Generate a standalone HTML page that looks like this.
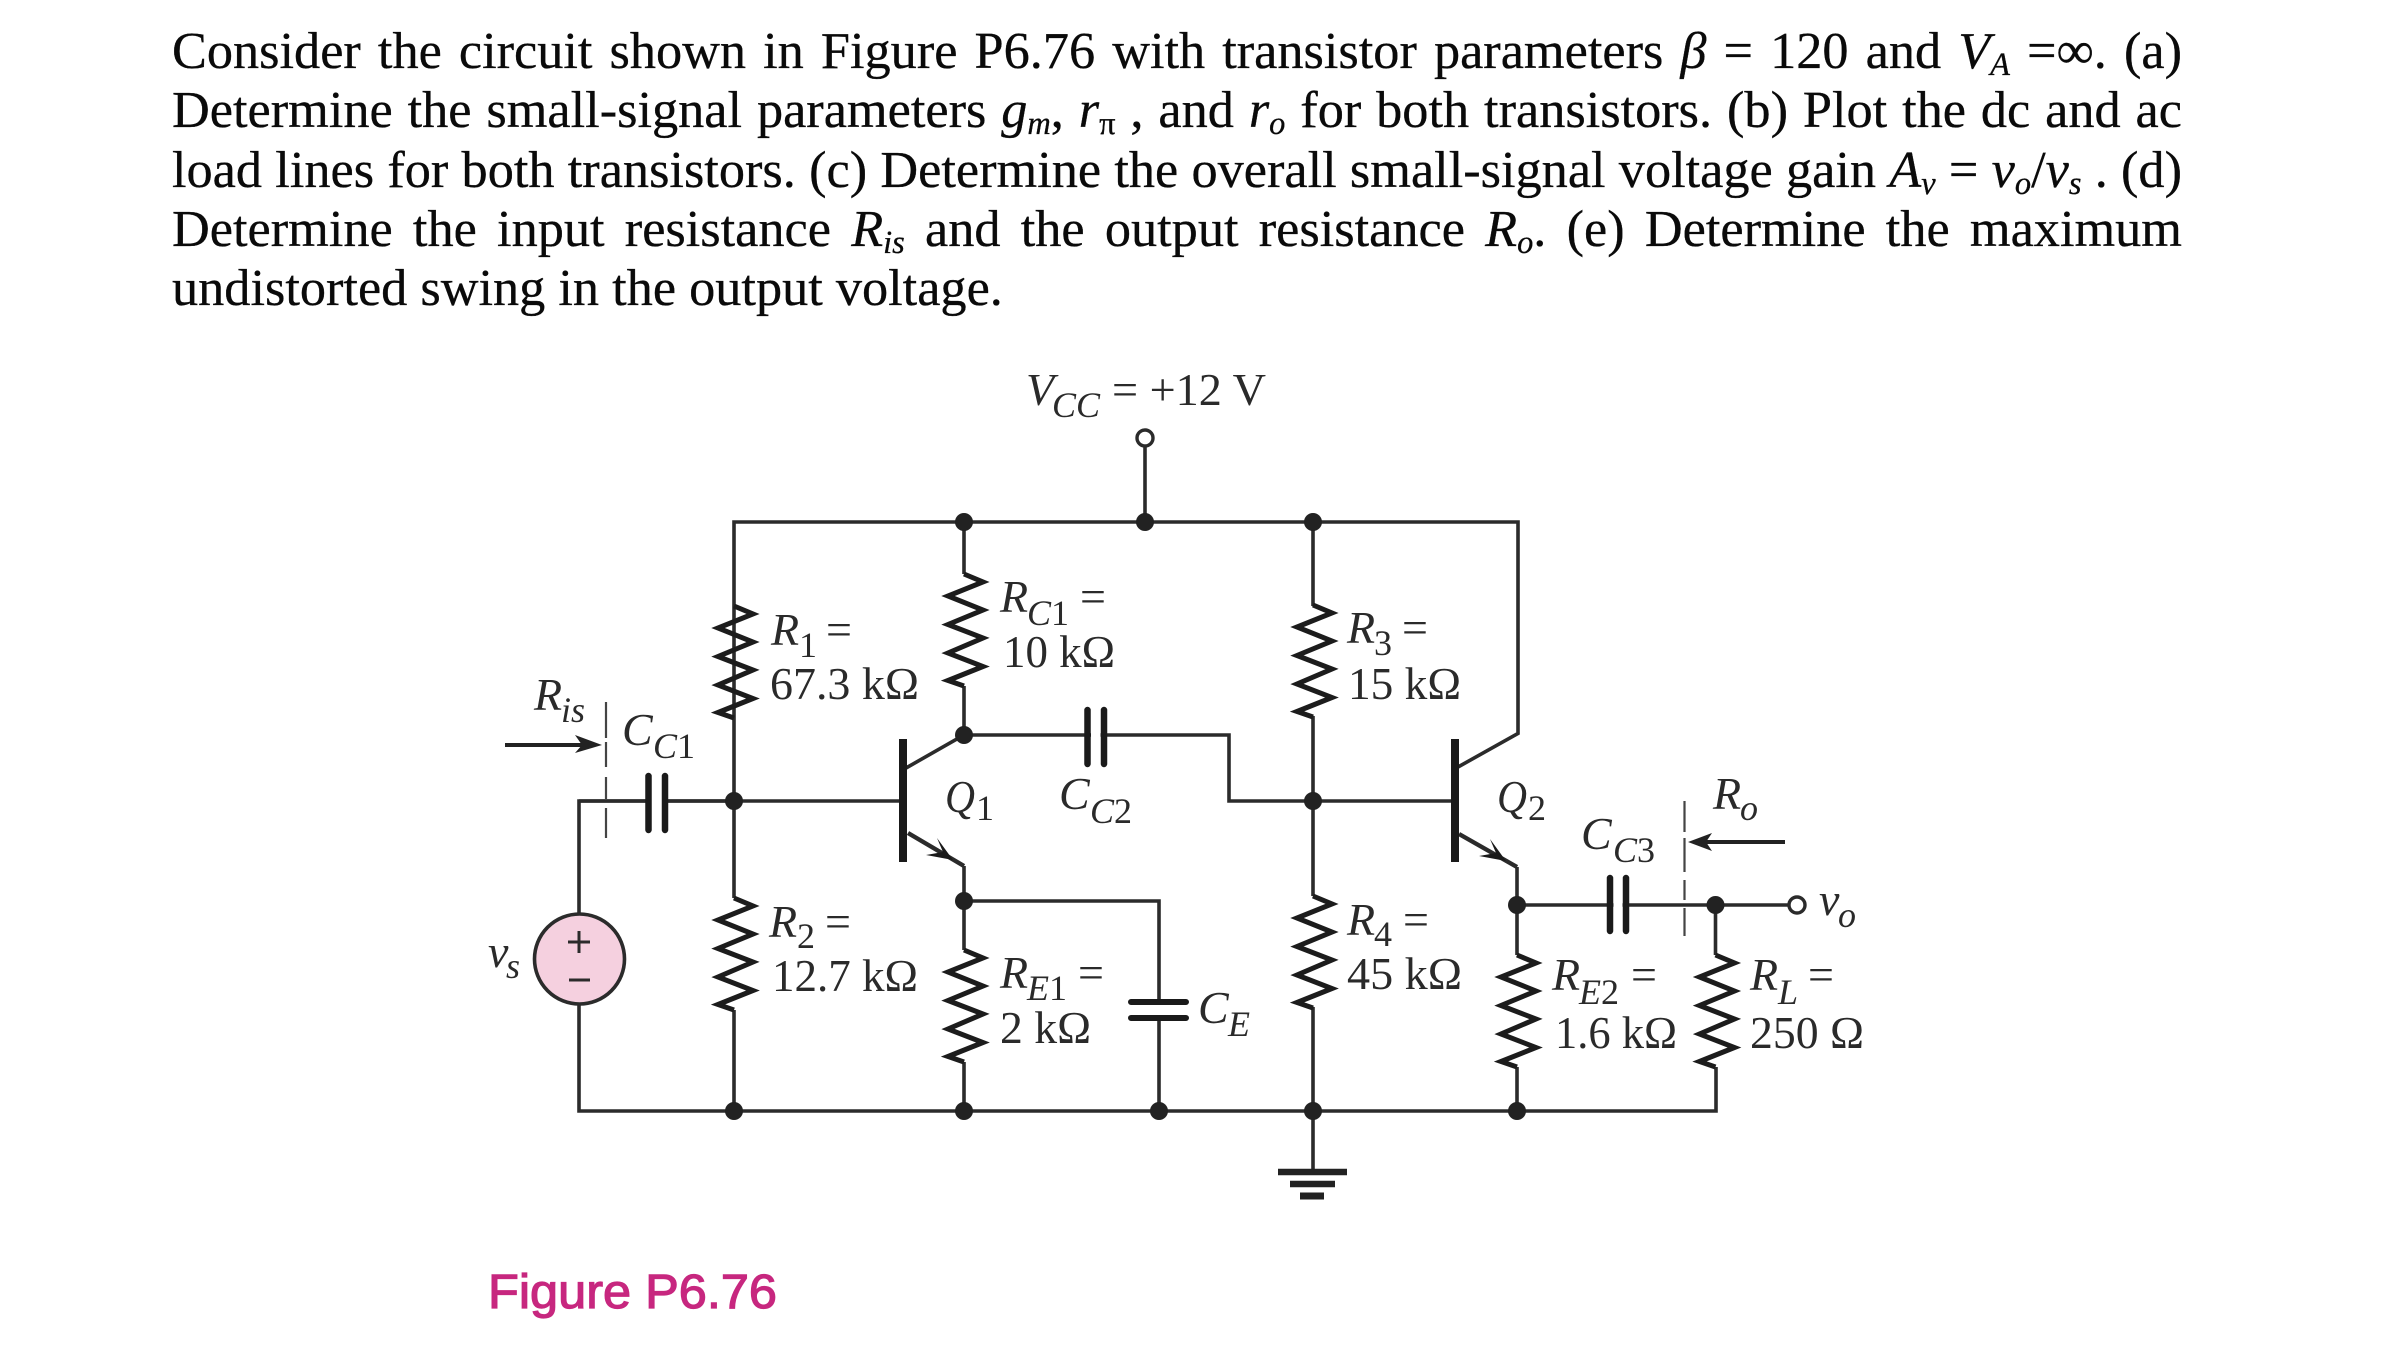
<!DOCTYPE html>
<html lang="en"><head><meta charset="utf-8"><title>Figure P6.76</title>
<style>
html,body{margin:0;padding:0;background:#fff;}
body{width:2392px;height:1357px;position:relative;overflow:hidden;font-family:"Liberation Serif",serif;}
.l{position:absolute;left:172px;width:2010px;height:60px;line-height:60px;font-size:52.3px;color:#0a0a0a;-webkit-text-stroke:.3px #0a0a0a;white-space:nowrap;text-align:justify;text-align-last:justify;}
.l i{font-style:italic;}
.s{font-size:.62em;font-style:italic;position:relative;top:.22em;line-height:0;}
svg{position:absolute;left:0;top:0;}
svg text{font-family:"Liberation Serif",serif;font-size:46px;fill:#2a2a2a;}
svg text.i{font-style:italic;}
svg text.b{font-size:36px;font-style:italic;}
svg text.n{font-size:36px;font-style:normal;}
</style></head><body>
<div class="l" style="top:21px">Consider the circuit shown in Figure P6.76 with transistor parameters <i>β</i> = 120 and <i>V<span class="s">A</span></i> =∞. (a)</div>
<div class="l" style="top:80px">Determine the small-signal parameters <i>g<span class="s">m</span></i>, <i>r<span class="s" style="font-style:normal">π</span></i> , and <i>r<span class="s">o</span></i> for both transistors. (b) Plot the dc and ac</div>
<div class="l" style="top:140px;word-spacing:-5px">load lines for both transistors. (c) Determine the overall small-signal voltage gain <i>A<span class="s">v</span></i> = <i>v<span class="s">o</span></i>/<i>v<span class="s">s</span></i> . (d)</div>
<div class="l" style="top:199px">Determine the input resistance <i>R<span class="s">is</span></i> and the output resistance <i>R<span class="s">o</span></i>. (e) Determine the maximum</div>
<div class="l" style="top:258px;text-align-last:left">undistorted swing in the output voltage.</div>

<svg width="2392" height="1357" viewBox="0 0 2392 1357" xmlns="http://www.w3.org/2000/svg">
<defs>
<path id="r" d="M0 0L19 8L-16 22L19 36L-16 50.5L19 64L-16 79L19 92.5L-16 106.5L0 112" fill="none" stroke="#1c1c1c" stroke-width="5" stroke-linejoin="miter"/>
<circle id="d" r="9" fill="#222"/>
</defs>
<g fill="none" stroke="#2b2b2b" stroke-width="3.6">
<!-- rails -->
<path d="M734 718V522H1518V733.5L1458 767"/>
<path d="M1145 446V522"/>
<path d="M579 914V801H903"/>
<path d="M579 1004V1111H1716V1067"/>
<path d="M734 718V898M734 1010V1111"/>
<path d="M964 522V574M964 686V735L906 768"/>
<path d="M964 735H1229V801H1455"/>
<path d="M964 866V950M964 1062V1111"/>
<path d="M964 901H1159V1002M1159 1018V1111"/>
<path d="M1313 522V606M1313 716V896M1313 1007V1172"/>
<path d="M1517 867V955M1517 1067V1111"/>
<path d="M1517 905H1788"/>
<path d="M1715.5 905V955"/>
<path d="M908 833L964 866M1459 834L1517 867" stroke-width="4.4"/>
</g>
<!-- resistors -->
<use href="#r" x="734" y="606"/>
<use href="#r" x="964" y="574"/>
<use href="#r" x="734" y="898"/>
<use href="#r" x="964" y="950"/>
<use href="#r" x="1313" y="605"/>
<use href="#r" x="1313" y="896"/>
<use href="#r" x="1517" y="955"/>
<use href="#r" x="1715.5" y="955"/>
<!-- transistor bars -->
<path d="M903 739V862M1455 739V862" stroke="#1a1a1a" stroke-width="8" fill="none"/>
<polygon points="953,860 937,838 943,852 926,855" fill="#1a1a1a"/>
<polygon points="1506,861 1490,839 1496,853 1479,856" fill="#1a1a1a"/>
<!-- capacitors -->
<rect x="652.5" y="790" width="10" height="24" fill="#fff"/>
<path d="M579 801H735" stroke="#2b2b2b" stroke-width="3.6"/>
<rect x="651.5" y="790" width="11" height="24" fill="#fff"/>
<rect x="1091" y="725" width="9.5" height="20" fill="#fff"/>
<rect x="1613.5" y="895" width="9" height="20" fill="#fff"/>
<rect x="1145" y="1005" width="28" height="10" fill="#fff"/>
<g stroke="#1a1a1a" stroke-width="6.5" stroke-linecap="round" fill="none">
<path d="M648.5 776V830M665 776V830"/>
<path d="M1087.5 710V764M1104 710V764"/>
<path d="M1610 878V931M1626 878V931"/>
<path d="M1131 1002H1186M1131 1018H1186" stroke-width="6"/>
</g>
<!-- dots -->
<use href="#d" x="964" y="522"/><use href="#d" x="1145" y="522"/><use href="#d" x="1313" y="522"/>
<use href="#d" x="734" y="801"/><use href="#d" x="964" y="735"/><use href="#d" x="1313" y="801"/>
<use href="#d" x="964" y="901"/><use href="#d" x="1517" y="905"/><use href="#d" x="1715.5" y="905"/>
<use href="#d" x="734" y="1111"/><use href="#d" x="964" y="1111"/><use href="#d" x="1159" y="1111"/><use href="#d" x="1313" y="1111"/><use href="#d" x="1517" y="1111"/>
<!-- terminals -->
<circle cx="1145" cy="438" r="8" fill="#fff" stroke="#2b2b2b" stroke-width="3.4"/>
<circle cx="1797" cy="905" r="8" fill="#fff" stroke="#2b2b2b" stroke-width="3.4"/>
<!-- source -->
<circle cx="579.5" cy="959" r="45" fill="#f5d0df" stroke="#2b2b2b" stroke-width="3.6"/>
<path d="M579 931V953M568 942H590M569 980H590" stroke="#2b2b2b" stroke-width="3" fill="none"/>
<!-- ground -->
<path d="M1278 1172H1347" stroke="#222" stroke-width="6.5"/><path d="M1290 1184H1335" stroke="#222" stroke-width="6.5"/><path d="M1300 1196H1324" stroke="#222" stroke-width="7"/>
<!-- dashed -->
<path d="M606 702V738M606 742V767M606 777V800M606 808V838" stroke="#444" stroke-width="2.2" fill="none"/>
<path d="M1684.5 801V832M1684.5 838V872M1684.5 880V900M1684.5 908V936" stroke="#444" stroke-width="2.2" fill="none"/>
<!-- arrows -->
<path d="M505 745H585M1700 842H1785" stroke="#222" stroke-width="4" fill="none"/>
<polygon points="602,745 575,735 582,745 575,753" fill="#222"/>
<polygon points="1688,842 1712,833 1706,842 1712,851" fill="#222"/>
<!-- labels -->
<text class="i" x="1026" y="405">V</text><text class="b" x="1052" y="417">CC</text><text x="1112" y="405" textLength="154" lengthAdjust="spacingAndGlyphs">= +12 V</text>
<text class="i" x="771" y="645">R</text><text class="n" x="799" y="657">1</text><text x="826" y="645">=</text>
<text x="770" y="699" textLength="149" lengthAdjust="spacingAndGlyphs">67.3 kΩ</text>
<text class="i" x="1000" y="612">R</text><text class="b" x="1027" y="625">C<tspan font-style="normal">1</tspan></text><text x="1080" y="612">=</text>
<text x="1003" y="667" textLength="112" lengthAdjust="spacingAndGlyphs">10 kΩ</text>
<text class="i" x="534" y="710">R</text><text class="b" x="561" y="722">is</text>
<text class="i" x="622" y="745">C</text><text class="b" x="653" y="758">C<tspan font-style="normal">1</tspan></text>
<text class="i" x="945" y="812" textLength="30" lengthAdjust="spacingAndGlyphs">Q</text><text class="n" x="976" y="820">1</text>
<text class="i" x="1059" y="809">C</text><text class="b" x="1090" y="823">C<tspan font-style="normal">2</tspan></text>
<text class="i" x="488" y="967">v</text><text class="b" x="506" y="978">s</text>
<text class="i" x="769" y="937">R</text><text class="n" x="797" y="948">2</text><text x="825" y="937">=</text>
<text x="772" y="991" textLength="146" lengthAdjust="spacingAndGlyphs">12.7 kΩ</text>
<text class="i" x="1000" y="988">R</text><text class="b" x="1027" y="1000">E<tspan font-style="normal">1</tspan></text><text x="1078" y="988">=</text>
<text x="1000" y="1043" textLength="91" lengthAdjust="spacingAndGlyphs">2 kΩ</text>
<text class="i" x="1198" y="1023">C</text><text class="b" x="1228" y="1036">E</text>
<text class="i" x="1347" y="643">R</text><text class="n" x="1374" y="655">3</text><text x="1402" y="643">=</text>
<text x="1348" y="699" textLength="113" lengthAdjust="spacingAndGlyphs">15 kΩ</text>
<text class="i" x="1347" y="935">R</text><text class="n" x="1374" y="946">4</text><text x="1403" y="935">=</text>
<text x="1347" y="989" textLength="115" lengthAdjust="spacingAndGlyphs">45 kΩ</text>
<text class="i" x="1497" y="812" textLength="30" lengthAdjust="spacingAndGlyphs">Q</text><text class="n" x="1528" y="820">2</text>
<text class="i" x="1713" y="809">R</text><text class="b" x="1740" y="820">o</text>
<text class="i" x="1581" y="849">C</text><text class="b" x="1613" y="862">C<tspan font-style="normal">3</tspan></text>
<text class="i" x="1819" y="915">v</text><text class="b" x="1838" y="927">o</text>
<text class="i" x="1552" y="990">R</text><text class="b" x="1579" y="1004">E<tspan font-style="normal">2</tspan></text><text x="1631" y="990">=</text>
<text x="1555" y="1048" textLength="122" lengthAdjust="spacingAndGlyphs">1.6 kΩ</text>
<text class="i" x="1750" y="990">R</text><text class="b" x="1778" y="1004">L</text><text x="1808" y="990">=</text>
<text x="1750" y="1048" textLength="114" lengthAdjust="spacingAndGlyphs">250 Ω</text>
<text x="488" y="1308" textLength="289" lengthAdjust="spacingAndGlyphs" style="font-family:'Liberation Sans',sans-serif;font-size:48px;fill:#c7277f;stroke:#c7277f;stroke-width:1.2">Figure P6.76</text>
</svg>
</body></html>
